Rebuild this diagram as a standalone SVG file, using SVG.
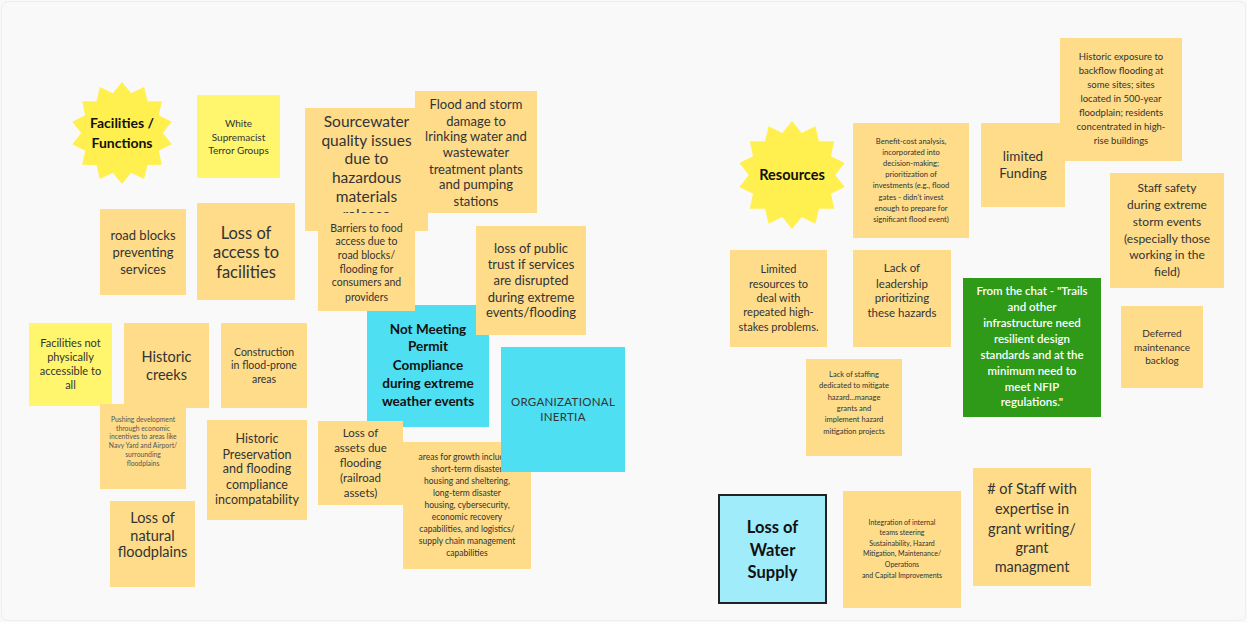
<svg xmlns="http://www.w3.org/2000/svg" width="1247" height="622" viewBox="0 0 1247 622">
<defs>
<polygon id="star" points="0,-1 0.178,-0.78 0.434,-0.901 0.499,-0.625 0.782,-0.623 0.721,-0.347 0.975,-0.223 0.8,0 0.975,0.223 0.721,0.347 0.782,0.623 0.499,0.625 0.434,0.901 0.178,0.78 0,1 -0.178,0.78 -0.434,0.901 -0.499,0.625 -0.782,0.623 -0.721,0.347 -0.975,0.223 -0.8,0 -0.975,-0.223 -0.721,-0.347 -0.782,-0.623 -0.499,-0.625 -0.434,-0.901 -0.178,-0.78"/>
<clipPath id="clipSource"><rect x="305" y="108" width="123" height="105"/></clipPath>
</defs>
<style>
.n{fill:#FEDC8A}
.y{fill:#FFF66E}
.c{fill:#4EDFF2}
.s{fill:#FFF04F}
.t{font-family:Lato,"Liberation Sans",sans-serif;fill:#333;text-anchor:middle}
.b{font-weight:bold;fill:#111}
.w{fill:#fff;font-weight:600}
.l{fill:#555}
</style>
<rect x="0" y="0" width="1247" height="622" fill="#F9F9F9"/>
<rect x="1.5" y="1.5" width="1244" height="619" rx="6" fill="none" stroke="#EEEEEE"/>
<g id="connectors"/>

<g id="facilities-functions">
<use href="#star" class="s" transform="translate(122,133) scale(51)"/>
<text class="t b" font-size="14"><tspan x="122" y="128">Facilities /</tspan><tspan x="122" y="148">Functions</tspan></text>
</g>

<g id="white-supremacist">
<rect x="197" y="95" width="83" height="83" class="y"/>
<text class="t" font-size="10"><tspan x="238.5" y="126.5">White</tspan><tspan x="238.5" y="140.5">Supremacist</tspan><tspan x="238.5" y="153.5">Terror Groups</tspan></text>
</g>

<g id="road-blocks">
<rect x="100" y="209" width="86" height="86" class="n"/>
<text class="t" font-size="13"><tspan x="143" y="239.5">road blocks</tspan><tspan x="143" y="256.5">preventing</tspan><tspan x="143" y="273.5">services</tspan></text>
</g>

<g id="loss-access">
<rect x="197" y="203" width="98" height="97" class="n"/>
<text class="t" font-size="16.5"><tspan x="246" y="238.5">Loss of</tspan><tspan x="246" y="258">access to</tspan><tspan x="246" y="277.5">facilities</tspan></text>
</g>

<g id="historic-creeks">
<rect x="124" y="323" width="85" height="85" class="n"/>
<text class="t" font-size="14.5"><tspan x="166.5" y="362">Historic</tspan><tspan x="166.5" y="380">creeks</tspan></text>
</g>

<g id="facilities-not-accessible">
<rect x="29" y="323" width="83" height="83" class="y"/>
<text class="t" font-size="11"><tspan x="70.5" y="347">Facilities not</tspan><tspan x="70.5" y="361">physically</tspan><tspan x="70.5" y="375">accessible to</tspan><tspan x="70.5" y="389">all</tspan></text>
</g>

<g id="construction">
<rect x="221" y="323" width="86" height="85" class="n"/>
<text class="t" font-size="10.5"><tspan x="264" y="356">Construction</tspan><tspan x="264" y="369">in flood-prone</tspan><tspan x="264" y="383">areas</tspan></text>
</g>

<g id="pushing-development">
<rect x="100" y="404" width="86" height="85" class="n"/>
<text class="t l" font-size="6.8"><tspan x="143" y="422.4">Pushing development</tspan><tspan x="143" y="431.4">through economic</tspan><tspan x="143" y="439.4">incentives to areas like</tspan><tspan x="143" y="448.4">Navy Yard and Airport/</tspan><tspan x="143" y="457.4">surrounding</tspan><tspan x="143" y="466.4">floodplains</tspan></text>
</g>

<g id="historic-preservation">
<rect x="207" y="420" width="100" height="100" class="n"/>
<text class="t" font-size="12.5"><tspan x="257" y="443.4">Historic</tspan><tspan x="257" y="459.4">Preservation</tspan><tspan x="257" y="473.4">and flooding</tspan><tspan x="257" y="489.4">compliance</tspan><tspan x="257" y="504.4">incompatability</tspan></text>
</g>

<g id="loss-natural-floodplains">
<rect x="110" y="501" width="85" height="86" class="n"/>
<text class="t" font-size="14.5"><tspan x="152.5" y="523">Loss of</tspan><tspan x="152.5" y="541">natural</tspan><tspan x="152.5" y="557">floodplains</tspan></text>
</g>

<g id="sourcewater">
<rect x="305" y="108" width="123" height="123" class="n"/>
<text class="t" font-size="15.5" clip-path="url(#clipSource)"><tspan x="366.5" y="126.5">Sourcewater</tspan><tspan x="366.5" y="145.5">quality issues</tspan><tspan x="366.5" y="163.5">due to</tspan><tspan x="366.5" y="182.5">hazardous</tspan><tspan x="366.5" y="201.5">materials</tspan><tspan x="366.5" y="220">release</tspan></text>
</g>

<g id="flood-storm-damage">
<rect x="415" y="91" width="122" height="122" class="n"/>
<text class="t" font-size="13"><tspan x="476" y="108.5">Flood and storm</tspan><tspan x="476" y="125.5">damage to</tspan><tspan x="476" y="140.5">lrinking water and</tspan><tspan x="476" y="156.5">wastewater</tspan><tspan x="476" y="173.5">treatment plants</tspan><tspan x="476" y="188.5">and pumping</tspan><tspan x="476" y="205.5">stations</tspan></text>
</g>

<g id="not-meeting-permit">
<rect x="367" y="305" width="122" height="122" class="c"/>
<text class="t b" font-size="13.5"><tspan x="428" y="333.7">Not Meeting</tspan><tspan x="428" y="350.7">Permit</tspan><tspan x="428" y="369.7">Compliance</tspan><tspan x="428" y="387.7">during extreme</tspan><tspan x="428" y="405.7">weather events</tspan></text>
</g>

<g id="barriers-food">
<rect x="318" y="213" width="97" height="98" class="n"/>
<text class="t" font-size="10.5"><tspan x="366.5" y="231.7">Barriers to food</tspan><tspan x="366.5" y="244.7">access due to</tspan><tspan x="366.5" y="258.7">road blocks/</tspan><tspan x="366.5" y="272.7">flooding for</tspan><tspan x="366.5" y="285.7">consumers and</tspan><tspan x="366.5" y="300.7">providers</tspan></text>
</g>

<g id="public-trust">
<rect x="476" y="226" width="110" height="109" class="n"/>
<text class="t" font-size="13"><tspan x="531" y="252.5">loss of public</tspan><tspan x="531" y="268.5">trust if services</tspan><tspan x="531" y="284.5">are disrupted</tspan><tspan x="531" y="301.5">during extreme</tspan><tspan x="531" y="316.5">events/flooding</tspan></text>
</g>

<g id="loss-assets">
<rect x="318" y="421" width="85" height="84" class="n"/>
<text class="t" font-size="11.5"><tspan x="360.5" y="437">Loss of</tspan><tspan x="360.5" y="452">assets due</tspan><tspan x="360.5" y="467">flooding</tspan><tspan x="360.5" y="482">(railroad</tspan><tspan x="360.5" y="497">assets)</tspan></text>
</g>

<g id="areas-growth">
<rect x="403" y="442" width="128" height="127" class="n"/>
<text class="t" font-size="8.5"><tspan x="467" y="460">areas for growth including</tspan><tspan x="467" y="472">short-term disaster</tspan><tspan x="467" y="484">housing and sheltering,</tspan><tspan x="467" y="496">long-term disaster</tspan><tspan x="467" y="508">housing, cybersecurity,</tspan><tspan x="467" y="520">economic recovery</tspan><tspan x="467" y="532">capabilities, and logistics/</tspan><tspan x="467" y="544">supply chain management</tspan><tspan x="467" y="556">capabilities</tspan></text>
</g>

<g id="organizational-inertia">
<rect x="501" y="347" width="124" height="125" class="c"/>
<text class="t" font-size="11.5" letter-spacing="0.3"><tspan x="563" y="406">ORGANIZATIONAL</tspan><tspan x="563" y="421">INERTIA</tspan></text>
</g>

<g id="resources">
<use href="#star" class="s" transform="translate(792,175) scale(54)"/>
<text class="t b" font-size="14.5" x="792" y="180">Resources</text>
</g>

<g id="benefit-cost">
<rect x="853" y="123" width="116" height="115" class="n"/>
<text class="t" font-size="7.6"><tspan x="911" y="143.7">Benefit-cost analysis,</tspan><tspan x="911" y="154.7">incorporated into</tspan><tspan x="911" y="165.7">decision-making;</tspan><tspan x="911" y="176.7">prioritization of</tspan><tspan x="911" y="187.7">investments (e.g., flood</tspan><tspan x="911" y="199.7">gates - didn't invest</tspan><tspan x="911" y="210.7">enough to prepare for</tspan><tspan x="911" y="221.7">significant flood event)</tspan></text>
</g>

<g id="limited-resources">
<rect x="730" y="250" width="97" height="97" class="n"/>
<text class="t" font-size="11"><tspan x="778.5" y="273">Limited</tspan><tspan x="778.5" y="288">resources to</tspan><tspan x="778.5" y="302">deal with</tspan><tspan x="778.5" y="316">repeated high-</tspan><tspan x="778.5" y="331">stakes problems.</tspan></text>
</g>

<g id="lack-leadership">
<rect x="853" y="250" width="98" height="97" class="n"/>
<text class="t" font-size="11.5"><tspan x="902" y="272">Lack of</tspan><tspan x="902" y="288">leadership</tspan><tspan x="902" y="302">prioritizing</tspan><tspan x="902" y="317">these hazards</tspan></text>
</g>

<g id="limited-funding">
<rect x="981" y="123" width="84" height="84" class="n"/>
<text class="t" font-size="13.5"><tspan x="1023" y="160.7">limited</tspan><tspan x="1023" y="177.7">Funding</tspan></text>
</g>

<g id="historic-exposure">
<rect x="1060" y="38" width="122" height="123" class="n"/>
<text class="t" font-size="9.5"><tspan x="1121" y="60.3">Historic exposure to</tspan><tspan x="1121" y="74.3">backflow flooding at</tspan><tspan x="1121" y="88.3">some sites; sites</tspan><tspan x="1121" y="102.3">located in 500-year</tspan><tspan x="1121" y="116.3">floodplain; residents</tspan><tspan x="1121" y="130.3">concentrated in high-</tspan><tspan x="1121" y="144.3">rise buildings</tspan></text>
</g>

<g id="staff-safety">
<rect x="1110" y="173" width="114" height="115" class="n"/>
<text class="t" font-size="12"><tspan x="1167" y="192.2">Staff safety</tspan><tspan x="1167" y="209.2">during extreme</tspan><tspan x="1167" y="226.2">storm events</tspan><tspan x="1167" y="243.2">(especially those</tspan><tspan x="1167" y="259.2">working in the</tspan><tspan x="1167" y="276.2">field)</tspan></text>
</g>

<g id="from-the-chat">
<rect x="963" y="278" width="138" height="139" fill="#2E9A17"/>
<text class="t w" font-size="11.5"><tspan x="1032" y="295">From the chat - "Trails</tspan><tspan x="1032" y="311">and other</tspan><tspan x="1032" y="327">infrastructure need</tspan><tspan x="1032" y="343">resilient design</tspan><tspan x="1032" y="359">standards and at the</tspan><tspan x="1032" y="375">minimum need to</tspan><tspan x="1032" y="391">meet NFIP</tspan><tspan x="1032" y="406">regulations."</tspan></text>
</g>

<g id="deferred-maintenance">
<rect x="1121" y="306" width="82" height="82" class="n"/>
<text class="t" font-size="10"><tspan x="1162" y="336.5">Deferred</tspan><tspan x="1162" y="350.5">maintenance</tspan><tspan x="1162" y="363.5">backlog</tspan></text>
</g>

<g id="lack-staffing">
<rect x="806" y="359" width="96" height="97" class="n"/>
<text class="t" font-size="7.5"><tspan x="854" y="376.6">Lack of staffing</tspan><tspan x="854" y="387.6">dedicated to mitigate</tspan><tspan x="854" y="399.6">hazard...manage</tspan><tspan x="854" y="410.6">grants and</tspan><tspan x="854" y="421.6">implement hazard</tspan><tspan x="854" y="433.6">mitigation projects</tspan></text>
</g>

<g id="loss-water-supply">
<rect x="719" y="495" width="107" height="108" fill="#A0ECFB" stroke="#222" stroke-width="2"/>
<text class="t b" font-size="16.5"><tspan x="772.5" y="532.8">Loss of</tspan><tspan x="772.5" y="555.8">Water</tspan><tspan x="772.5" y="577.8">Supply</tspan></text>
</g>

<g id="integration-teams">
<rect x="843" y="491" width="118" height="117" class="n"/>
<text class="t" font-size="7"><tspan x="902" y="525.4">Integration of internal</tspan><tspan x="902" y="535.4">teams steering</tspan><tspan x="902" y="546.4">Sustainability, Hazard</tspan><tspan x="902" y="556.4">Mitigation, Maintenance/</tspan><tspan x="902" y="567.4">Operations</tspan><tspan x="902" y="578.4">and Capital Improvements</tspan></text>
</g>

<g id="staff-grant-writing">
<rect x="973" y="468" width="118" height="118" class="n"/>
<text class="t" font-size="14.5"><tspan x="1032" y="494"># of Staff with</tspan><tspan x="1032" y="514">expertise in</tspan><tspan x="1032" y="534">grant writing/</tspan><tspan x="1032" y="553">grant</tspan><tspan x="1032" y="572">managment</tspan></text>
</g>
</svg>
